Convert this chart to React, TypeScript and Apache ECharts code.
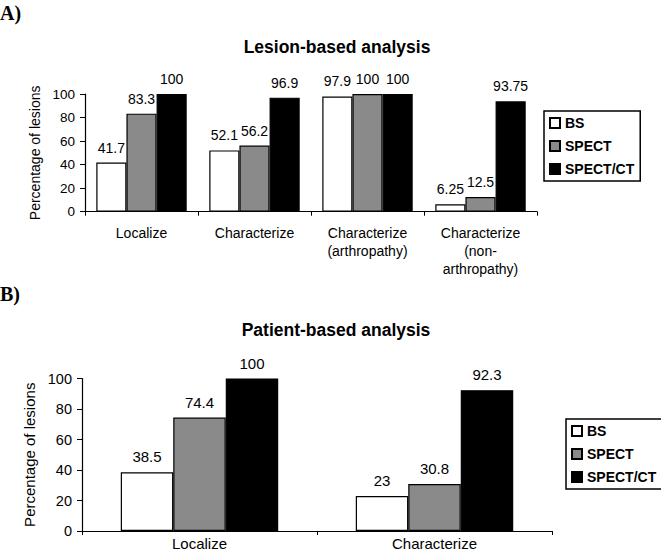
import React, { useEffect, useRef } from "react";
import * as echarts from "echarts";

const seriesNames = ["BS", "SPECT", "SPECT/CT"];
const lesionCategories = [
  "Localize",
  "Characterize",
  "Characterize\n(arthropathy)",
  "Characterize\n(non-\narthropathy)",
];
const lesionBS = [41.7, 52.1, 97.9, 6.25];
const lesionSPECT = [83.3, 56.2, 100, 12.5];
const lesionSPECTCT = [100, 96.9, 100, 93.75];

const patientCategories = ["Localize", "Characterize"];
const patientBS = [38.5, 23];
const patientSPECT = [74.4, 30.8];
const patientSPECTCT = [100, 92.3];

const yTicks = { min: 0, max: 100, interval: 20 };

const colors = ["#ffffff", "#8a8a8a", "#000000"];
const FONT = '"Liberation Sans", Arial, sans-serif';

export default function App() {
  const ref = useRef<HTMLDivElement>(null);
  useEffect(() => {
    if (!ref.current) return;
    const chart = echarts.init(ref.current, undefined, { renderer: "svg" });
    const mkSeries = (
      data: number[][],
      axisIndex: number,
      gap: string,
      fontSize: number
    ) =>
      data.map((d, i) => ({
        name: seriesNames[i],
        type: "bar",
        xAxisIndex: axisIndex,
        yAxisIndex: axisIndex,
        data: d,
        barGap: "0%",
        barCategoryGap: gap,
        itemStyle: { color: colors[i], borderColor: "#000", borderWidth: 1.2 },
        label: {
          show: true,
          position: "top",
          distance: 8,
          color: "#000",
          fontFamily: FONT,
          fontSize,
        },
      }));
    const legendCommon = {
      orient: "vertical",
      data: seriesNames,
      icon: "rect",
      itemWidth: 10,
      itemHeight: 10,
      itemGap: 9,
      padding: [5, 6, 5, 5],
      borderColor: "#000",
      borderWidth: 1.5,
      selectedMode: false,
      textStyle: { fontFamily: FONT, fontSize: 14, fontWeight: "bold", color: "#000" },
    };
    const axisLine = { show: true, lineStyle: { color: "#000", width: 1.2 } };
    const titleStyle = { fontFamily: FONT, fontSize: 17.5, fontWeight: "bold", color: "#000" };
    chart.setOption({
      animation: false,
      backgroundColor: "#fff",
      title: [
        { text: "Lesion-based analysis", left: 332, top: 33, textAlign: "center", textStyle: titleStyle },
        { text: "Patient-based analysis", left: 331, top: 316, textAlign: "center", textStyle: titleStyle },
      ],
      graphic: [
        {
          type: "text",
          left: 0,
          top: 3,
          style: {
            text: "A)",
            font: 'bold 20px "Liberation Serif", "Times New Roman", serif',
            fill: "#000",
          },
        },
        {
          type: "text",
          left: 0,
          top: 284,
          style: {
            text: "B)",
            font: 'bold 20px "Liberation Serif", "Times New Roman", serif',
            fill: "#000",
          },
        },
      ],
      legend: [
        { ...legendCommon, left: 544, top: 111 },
        { ...legendCommon, left: 566, top: 419 },
      ],
      grid: [
        { left: 85, top: 94, width: 452, height: 117.7 },
        { left: 82, top: 378.5, width: 470, height: 152.5 },
      ],
      xAxis: [
        {
          type: "category",
          gridIndex: 0,
          data: lesionCategories,
          axisLine,
          axisTick: { show: true, length: 4, lineStyle: { color: "#000" } },
          axisLabel: {
            color: "#000",
            fontFamily: FONT,
            fontSize: 14,
            lineHeight: 18,
            margin: 12,
            interval: 0,
          },
        },
        {
          type: "category",
          gridIndex: 1,
          data: patientCategories,
          axisLine,
          axisTick: { show: true, length: 4, lineStyle: { color: "#000" } },
          axisLabel: {
            color: "#000",
            fontFamily: FONT,
            fontSize: 15,
            margin: 5,
            interval: 0,
          },
        },
      ],
      yAxis: [
        {
          type: "value",
          gridIndex: 0,
          ...yTicks,
          name: "Percentage of lesions",
          nameLocation: "middle",
          nameGap: 41,
          nameTextStyle: { color: "#000", fontFamily: FONT, fontSize: 14 },
          axisLine,
          axisTick: { show: true, length: 5, lineStyle: { color: "#000" } },
          splitLine: { show: false },
          axisLabel: { color: "#000", fontFamily: FONT, fontSize: 13.5, margin: 10 },
        },
        {
          type: "value",
          gridIndex: 1,
          ...yTicks,
          name: "Percentage of lesions",
          nameLocation: "middle",
          nameGap: 42,
          nameTextStyle: { color: "#000", fontFamily: FONT, fontSize: 15 },
          axisLine,
          axisTick: { show: true, length: 5, lineStyle: { color: "#000" } },
          splitLine: { show: false },
          axisLabel: { color: "#000", fontFamily: FONT, fontSize: 14.5, margin: 10 },
        },
      ],
      series: [
        ...mkSeries([lesionBS, lesionSPECT, lesionSPECTCT], 0, "20%", 14),
        ...mkSeries([patientBS, patientSPECT, patientSPECTCT], 1, "33%", 15),
      ],
    });
    return () => chart.dispose();
  }, []);
  return (
    <div
      ref={ref}
      style={{ position: "fixed", left: 0, top: 0, width: 661, height: 556 }}
    />
  );
}
